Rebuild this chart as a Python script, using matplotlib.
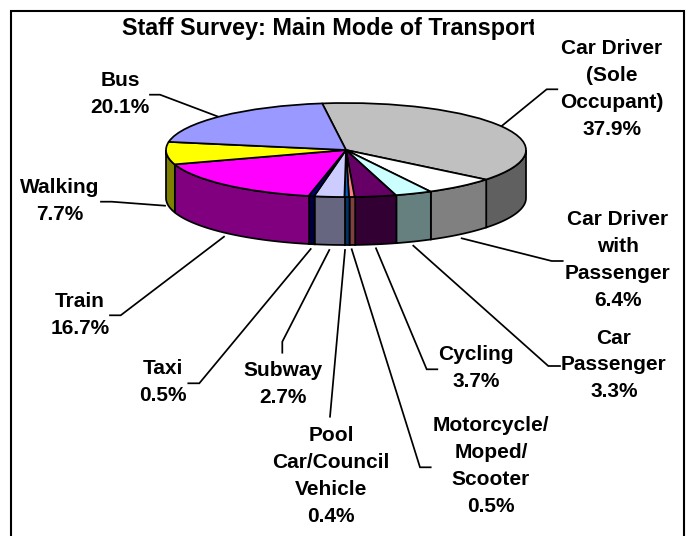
import numpy as np
import matplotlib
matplotlib.use("Agg")
import matplotlib.pyplot as plt
from matplotlib.patches import Rectangle
from matplotlib.transforms import Bbox

plt.rcParams['font.family'] = ['Liberation Sans', 'DejaVu Sans']

# ---- data ----
categories = ["Car Driver\n(Sole\nOccupant)", "Car Driver\nwith\nPassenger", "Car\nPassenger",
              "Cycling", "Motorcycle/\nMoped/\nScooter", "Pool\nCar/Council\nVehicle",
              "Subway", "Taxi", "Train", "Walking", "Bus"]
values = [37.9, 6.4, 3.3, 3.7, 0.5, 0.4, 2.7, 0.5, 16.7, 7.7, 20.1]
top_colors = ["#C0C0C0", "#FFFFFF", "#CCFFFF", "#660066", "#FF8080", "#0066CC",
              "#CCCCFF", "#000080", "#FF00FF", "#FFFF00", "#9999FF"]
side_colors = ["#606060", "#808080", "#668080", "#330033", "#804040", "#003366",
               "#666680", "#000040", "#800080", "#808000", "#4D4D80"]
title_text = "Staff Survey: Main Mode of Transport"

# ---- layout (pixels) ----
W, H = 691, 536
label_xy = [(612, 89), (618, 260), (614, 365), (476, 368), (491, 466), (331, 476),
            (283, 384), (163, 382), (80, 315), (60, 201), (120, 94)]
leaders = [[(501.7, 126), (546.7, 89.3), (557.3, 89.3)],
           [(461.7, 238.3), (551.7, 261), (562.7, 261)],
           [(413.3, 245.7), (548.3, 366), (560, 366)],
           [(376, 248.3), (426.7, 369.3), (437.3, 369.3)],
           [(351.7, 249.3), (420, 467.3), (430.7, 467.3)],
           [(345, 250), (330, 416.7)],
           [(329.3, 250), (282.3, 341.7), (282.3, 352.7)],
           [(310.7, 249), (199.3, 383.3), (188.3, 383.3)],
           [(224, 236.7), (120.7, 315.3), (110, 315.3)],
           [(165, 205.7), (111.7, 201.7), (101, 201.7)],
           [(218.3, 116.7), (160, 94.7), (150, 94.7)]]
FS = 15
LW = 1.25

fig = plt.figure(figsize=(W / 100, H / 100), dpi=100, facecolor="white")

# overlay in pixel coordinates for frame, leaders and text
ov = fig.add_axes([0, 0, 1, 1], zorder=0)
ov.set_xlim(0, W)
ov.set_ylim(H, 0)
ov.axis("off")
ov.add_patch(Rectangle((11, 11), 673, 700, fc="white", ec="black", lw=1.5))
for pts in leaders:
    xs, ys = zip(*pts)
    ov.plot(xs, ys, color="black", lw=LW, solid_joinstyle="miter")
for name, val, (x, y) in zip(categories, values, label_xy):
    ov.text(x, y, f"{name}\n{val:.1f}%", ha="center", va="center", fontsize=FS,
            fontweight="bold", linespacing=1.52, multialignment="center")
t = ov.text(122, 29, title_text, ha="left", va="center", fontsize=16.8,
            fontweight="bold", color="black")
t.set_clip_box(Bbox([[0, 0], [534, H]]))
t.set_clip_on(True)

# pie axes: unit circle stretched to an ellipse with a depth below
x0, x1, y0, y1 = 166, 526, 103, 245
depth = 48 / 47
ax = fig.add_axes([x0 / W, 1 - y1 / H, (x1 - x0) / W, (y1 - y0) / H], zorder=1)
start = -7.6  # degrees clockwise from the top
wedges, _ = ax.pie(values, colors=top_colors, startangle=90 - start, counterclock=False,
                   wedgeprops=dict(edgecolor="black", linewidth=LW, joinstyle="round"))
for w in wedges:
    w.set_zorder(5)
edges = start + np.concatenate([[0], np.cumsum(values)]) * 3.6
for i, c in enumerate(side_colors):
    a, b = max(edges[i], 90), min(edges[i + 1], 270)
    if b <= a:
        continue
    th = np.radians(np.linspace(a, b, 60))
    xs = np.sin(th)
    ys = np.cos(th)
    ax.fill(np.r_[xs, xs[::-1]], np.r_[ys, ys[::-1] - depth], facecolor=c,
            edgecolor="black", linewidth=LW, zorder=2, clip_on=False)
ax.set_aspect("auto")
ax.set_xlim(-1, 1)
ax.set_ylim(-1 - depth, 1)
ax.axis("off")
ax.patch.set_alpha(0)

fig.savefig("out.png", dpi=100)
